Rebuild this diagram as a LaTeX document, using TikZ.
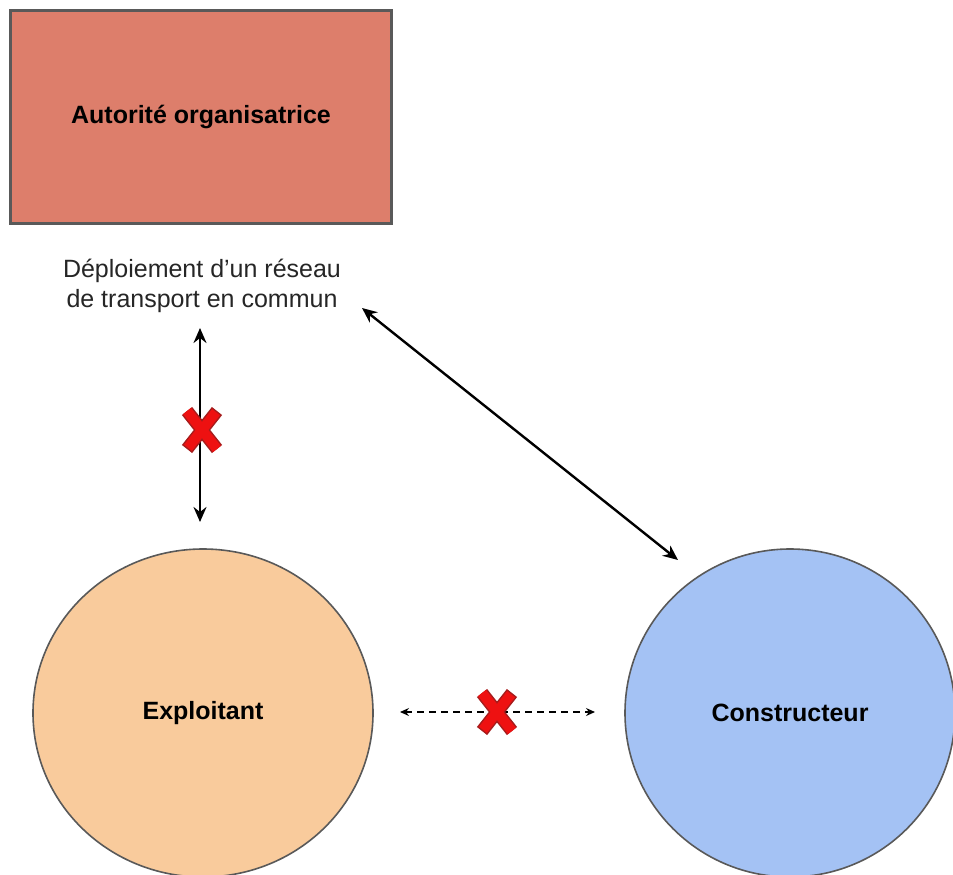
\documentclass[tikz,border=0pt]{standalone}
\usepackage{fontspec}
\setmainfont{Liberation Sans}
\usetikzlibrary{arrows.meta,shapes.geometric}
\definecolor{boxred}{HTML}{DD7E6B}
\definecolor{edgegrey}{HTML}{595959}
\definecolor{exporange}{HTML}{F9CB9C}
\definecolor{consblue}{HTML}{A4C2F4}
\definecolor{txtgrey}{HTML}{262626}
\definecolor{xdark}{HTML}{A61C1C}
\definecolor{xred}{HTML}{EE1111}
\tikzset{
  actor/.style={ellipse, draw=edgegrey, line width=1.6pt, inner sep=0pt,
    font=\bfseries\fontsize{25}{30}\selectfont, text=black},
  bothway/.style={{Stealth[length=15pt,width=13pt,inset=5pt]}-{Stealth[length=15pt,width=13pt,inset=5pt]}, line width=2.4pt, black},
  dashway/.style={{Stealth[length=9pt,width=8pt,inset=3pt]}-{Stealth[length=9pt,width=8pt,inset=3pt]}, line width=1.5pt, black, dash pattern=on 7pt off 5pt},
  nox/.pic={
    \draw[line width=13pt, xdark] (-15,-19) -- (15,19) (-15,19) -- (15,-19);
    \draw[line width=10pt, xred, shorten <=1.5pt, shorten >=1.5pt] (-15,-19) -- (15,19) (-15,19) -- (15,-19);
  }
}
\begin{document}
\begin{tikzpicture}[x=1pt,y=-1pt]
\useasboundingbox[fill=white] (0,0) rectangle (953,875);

\node[draw=edgegrey, line width=3pt, fill=boxred, inner sep=0pt,
      minimum width=381pt, minimum height=213pt,
      font=\bfseries\fontsize{25}{30}\selectfont, text=black] (auth) at (201,117) {Autorité organisatrice};

\node[align=center, font=\fontsize{25}{30}\selectfont, text=txtgrey, inner sep=0pt] (lbl) at (202,286)
  {Déploiement d’un réseau\\de transport en commun};

\node[actor, fill=exporange, minimum width=340pt, minimum height=328pt] (expl) at (203,713) {Exploitant};
\node[actor, fill=consblue, minimum width=330pt, minimum height=328pt] (cons) at (790,713) {Constructeur};

\coordinate (vtop) at (200,328);
\coordinate (vbot) at (200,522);
\coordinate (dtop) at (362,308);
\coordinate (dbot) at (678,560);
\coordinate (hl) at (400,712);
\coordinate (hr) at (595,712);

\draw[bothway] (vtop) -- (vbot);
\draw[bothway] (dtop) -- (dbot);
\draw[dashway] (hl) -- (hr);

\pic at (202,430) {nox};
\pic at (497,712) {nox};
\end{tikzpicture}
\end{document}
